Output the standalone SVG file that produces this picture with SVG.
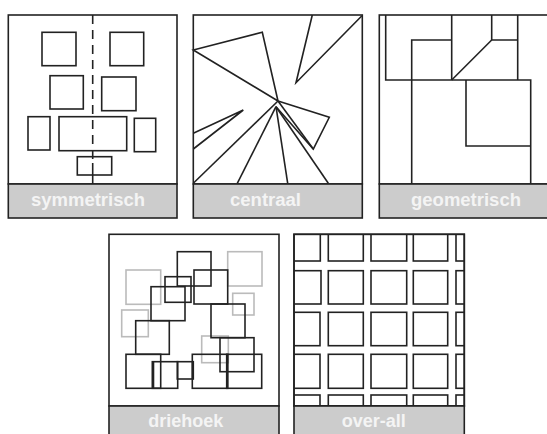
<svg xmlns="http://www.w3.org/2000/svg" width="547" height="434" viewBox="0 0 547 434">
<style>
.bg{fill:#ffffff}
.frame{fill:#ffffff;stroke:#222;stroke-width:1.6}
.band{fill:#cccccc;stroke:#222;stroke-width:1.6}
.ln{fill:none;stroke:#222;stroke-width:1.6}
.gr{fill:none;stroke:#bbbbbb;stroke-width:1.6}
.lbl{font-family:"Liberation Sans",Arial,sans-serif;font-size:18px;font-weight:bold;fill:#f4f4f4}
</style>
<defs>
<clipPath id="c3"><rect x="379.3" y="15" width="170" height="169"/></clipPath>
<clipPath id="c5"><rect x="294" y="234.3" width="170.3" height="171.7"/></clipPath>
</defs>
<rect class="bg" x="0" y="0" width="547" height="434"/>

<g id="symmetrisch">
<rect class="frame" x="8.3" y="15" width="168.7" height="169"/>
<rect class="band" x="8.3" y="184" width="168.7" height="34"/>
<line class="ln" x1="92.7" y1="15" x2="92.7" y2="163" stroke-dasharray="9,6"/>
<line class="ln" x1="92.7" y1="163" x2="92.7" y2="184"/>
<rect class="ln" x="42" y="32.3" width="34" height="33.4"/>
<rect class="ln" x="110" y="32.3" width="33.7" height="33.4"/>
<rect class="ln" x="50" y="75.7" width="33.3" height="33.3"/>
<rect class="ln" x="101.7" y="77" width="34.3" height="33.7"/>
<rect class="ln" x="28" y="116.7" width="22" height="33.3"/>
<rect class="ln" x="59" y="116.7" width="67.7" height="34"/>
<rect class="ln" x="134.3" y="118.3" width="21.4" height="33.4"/>
<rect class="ln" x="77.3" y="156.7" width="34.4" height="18.3"/>
<text class="lbl" x="31" y="206" textLength="114" lengthAdjust="spacingAndGlyphs">symmetrisch</text>
</g>

<g id="centraal">
<rect class="frame" x="193.3" y="15" width="169" height="169"/>
<rect class="band" x="193.3" y="184" width="169" height="34"/>
<polyline class="ln" points="278,101 193.3,50 262.3,32.3 278,101"/>
<polyline class="ln" points="312.3,15 296,82.7 361.7,16"/>
<polyline class="ln" points="278,101 329.3,117.3 313.3,149 276,106.7"/>
<line class="ln" x1="278" y1="101" x2="313.3" y2="149"/>
<polyline class="ln" points="193.3,133.3 243.3,110 193.3,149"/>
<line class="ln" x1="278" y1="101" x2="193.3" y2="183.3"/>
<line class="ln" x1="276" y1="106.7" x2="237.3" y2="183.3"/>
<line class="ln" x1="276" y1="106.7" x2="287.7" y2="183.3"/>
<line class="ln" x1="276" y1="106.7" x2="328.3" y2="183.3"/>
<text class="lbl" x="230" y="206" textLength="71" lengthAdjust="spacingAndGlyphs">centraal</text>
</g>

<g id="geometrisch">
<rect class="frame" x="379.3" y="15" width="170" height="169"/>
<rect class="band" x="379.3" y="184" width="170" height="34"/>
<g clip-path="url(#c3)">
<polyline class="ln" points="385.7,15 385.7,80 530.7,80 530.7,184"/>
<line class="ln" x1="451.7" y1="15" x2="451.7" y2="80"/>
<polyline class="ln" points="451.7,40 411.7,40 411.7,184"/>
<line class="ln" x1="451.7" y1="80" x2="491.7" y2="40"/>
<polyline class="ln" points="491.7,15 491.7,40 517.7,40"/>
<line class="ln" x1="517.7" y1="15" x2="517.7" y2="80"/>
<polyline class="ln" points="466,80 466,146 530.7,146"/>
</g>
<text class="lbl" x="411" y="206" textLength="110" lengthAdjust="spacingAndGlyphs">geometrisch</text>
</g>

<g id="driehoek">
<rect class="frame" x="109" y="234.3" width="170" height="171.7"/>
<rect class="band" x="109" y="406" width="170" height="30"/>
<rect class="gr" x="126" y="270" width="34.7" height="34.3"/>
<rect class="gr" x="227.7" y="251.7" width="34.3" height="34.3"/>
<rect class="gr" x="232.7" y="293.3" width="21.3" height="21.7"/>
<rect class="gr" x="121.7" y="310" width="26.6" height="26.7"/>
<rect class="gr" x="201.7" y="336" width="26.6" height="26.7"/>
<rect class="ln" x="177.3" y="251.7" width="33.7" height="34.3"/>
<rect class="ln" x="194" y="270" width="33.7" height="34"/>
<rect class="ln" x="165" y="276.7" width="26" height="25.6"/>
<rect class="ln" x="151" y="286.7" width="34" height="34"/>
<rect class="ln" x="135.7" y="320.7" width="33.6" height="33.6"/>
<rect class="ln" x="211" y="304" width="34" height="33.7"/>
<rect class="ln" x="220" y="337.7" width="34" height="34"/>
<rect class="ln" x="126" y="354.3" width="34.7" height="34"/>
<rect class="ln" x="152.3" y="361.7" width="25.4" height="26.6"/>
<rect class="ln" x="177.3" y="361.7" width="16" height="17.3"/>
<rect class="ln" x="192.3" y="354.3" width="35.4" height="34"/>
<rect class="ln" x="226.7" y="354.3" width="35" height="34"/>
<line class="ln" x1="153.5" y1="361.7" x2="153.5" y2="388.3" stroke-width="2.5"/>
<line class="ln" x1="192.5" y1="361.7" x2="192.5" y2="379" stroke-width="2.5"/>
<line class="ln" x1="227.5" y1="354.3" x2="227.5" y2="388.3" stroke-width="2.5"/>
<text class="lbl" x="148.3" y="427" textLength="75" lengthAdjust="spacingAndGlyphs">driehoek</text>
</g>

<g id="over-all">
<rect class="frame" x="294" y="234.3" width="170.3" height="171.7"/>
<g clip-path="url(#c5)">
<rect class="ln" x="285.7" y="227" width="34.6" height="34"/>
<rect class="ln" x="328.3" y="227" width="35" height="34"/>
<rect class="ln" x="371" y="227" width="35.7" height="34"/>
<rect class="ln" x="413.3" y="227" width="34.4" height="34"/>
<rect class="ln" x="456" y="227" width="34.4" height="34"/>
<rect class="ln" x="285.7" y="270.7" width="35.3" height="33.3"/>
<rect class="ln" x="328.3" y="270.7" width="35" height="33.3"/>
<rect class="ln" x="371" y="270.7" width="35.7" height="33.3"/>
<rect class="ln" x="413.3" y="270.7" width="34.4" height="33.3"/>
<rect class="ln" x="456" y="270.7" width="34.4" height="33.3"/>
<rect class="ln" x="285.7" y="312.3" width="34.3" height="33.4"/>
<rect class="ln" x="328.3" y="312.3" width="35" height="33.4"/>
<rect class="ln" x="371" y="312.3" width="35.7" height="33.4"/>
<rect class="ln" x="413.3" y="312.3" width="34.4" height="33.4"/>
<rect class="ln" x="456" y="312.3" width="34.4" height="33.4"/>
<rect class="ln" x="285.7" y="354.3" width="34.3" height="34"/>
<rect class="ln" x="328.3" y="354.3" width="35" height="34"/>
<rect class="ln" x="371" y="354.3" width="35.7" height="34"/>
<rect class="ln" x="413.3" y="354.3" width="34.4" height="34"/>
<rect class="ln" x="456" y="354.3" width="34.4" height="34"/>
<rect class="ln" x="285.7" y="395" width="34.3" height="34"/>
<rect class="ln" x="328.3" y="395" width="35" height="34"/>
<rect class="ln" x="371" y="395" width="35.7" height="34"/>
<rect class="ln" x="413.3" y="395" width="34.4" height="34"/>
<rect class="ln" x="456" y="395" width="34.4" height="34"/>
</g>
<rect class="ln" x="294" y="234.3" width="170.3" height="171.7"/>
<rect class="band" x="294" y="406" width="170.3" height="30"/>
<text class="lbl" x="341.7" y="427" textLength="64" lengthAdjust="spacingAndGlyphs">over-all</text>
</g>
</svg>
